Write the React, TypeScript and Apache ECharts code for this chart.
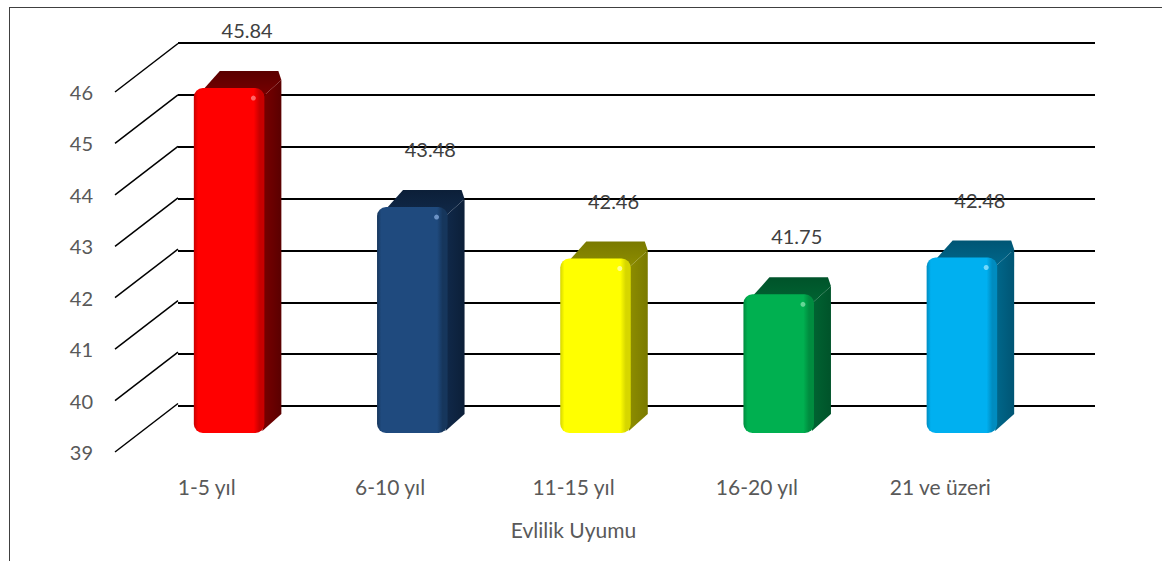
import React, { useEffect, useRef } from 'react';
import * as echarts from 'echarts';

const categories = ['1-5 yıl', '6-10 yıl', '11-15 yıl', '16-20 yıl', '21 ve üzeri'];
const values = [45.84, 43.48, 42.46, 41.75, 42.48];
const yTicks = [39, 40, 41, 42, 43, 44, 45, 46];
const axisTitle = 'Evlilik Uyumu';
const Y_MIN = 39;
const Y_MAX = 46;

const palette = [
  { front: '#FF0000', edge: '#C80000', side: '#5A0000', top: '#7A0000', hi: '#FF8080' },
  { front: '#1F4A7E', edge: '#16365C', side: '#0C1F38', top: '#10294A', hi: '#7FA5D8' },
  { front: '#FFFF00', edge: '#D6D600', side: '#7A7A00', top: '#8E8E00', hi: '#FFFFB0' },
  { front: '#00B050', edge: '#008C3F', side: '#00532A', top: '#006432', hi: '#80E0A8' },
  { front: '#00B0F0', edge: '#008CC0', side: '#005574', top: '#00688C', hi: '#90E4FF' },
];

const FONT = 'Lato, "Noto Sans", sans-serif';

export default function App() {
  const ref = useRef<HTMLDivElement>(null);
  useEffect(() => {
    if (!ref.current) return;
    const chart = echarts.init(ref.current, undefined, { renderer: 'svg' });
    const DX = 17;
    const DY = -17;

    const renderBar = (params: any, api: any) => {
      const i = api.value(0);
      const v = api.value(1);
      const c = palette[i % palette.length];
      const pTop = api.coord([i, v]);
      const pBase = api.coord([i, Y_MIN]);
      const bw = api.size([1, 0])[0];
      const w = bw * 0.385;
      const x0 = pTop[0] - w / 2;
      const x1 = pTop[0] + w / 2;
      const yT = pTop[1];
      const yB = pBase[1];
      const r = 9;
      return {
        type: 'group',
        children: [
          {
            type: 'polygon',
            shape: { points: [[x1 - 2, yT + r], [x1 + DX, yT + DY + r], [x1 + DX, yB + DY - 2], [x1 - 2, yB - 2]] },
            style: {
              fill: new echarts.graphic.LinearGradient(0, 0, 1, 0, [
                { offset: 0, color: c.top },
                { offset: 1, color: c.side },
              ]),
            },
          },
          {
            type: 'polygon',
            shape: { points: [[x0 + r, yT + 2], [x0 + r + DX, yT + DY], [x1 + DX - 3, yT + DY], [x1 + DX, yT + DY + r], [x1 - 2, yT + r]] },
            style: {
              fill: new echarts.graphic.LinearGradient(0, 0, 0, 1, [
                { offset: 0, color: c.side },
                { offset: 1, color: c.top },
              ]),
            },
          },
          {
            type: 'rect',
            shape: { x: x0, y: yT, width: w, height: yB - yT, r: r },
            style: {
              fill: new echarts.graphic.LinearGradient(0, 0, 1, 0, [
                { offset: 0, color: c.edge },
                { offset: 0.06, color: c.front },
                { offset: 0.85, color: c.front },
                { offset: 0.93, color: c.edge },
                { offset: 1, color: c.edge },
              ]),
            },
          },
          {
            type: 'circle',
            shape: { cx: x1 - 11, cy: yT + 10, r: 2.5 },
            style: { fill: c.hi, opacity: 0.8 },
          },
          {
            type: 'text',
            style: {
              text: v.toFixed(2),
              x: pTop[0] + 18,
              y: yT - 58,
              align: 'center',
              verticalAlign: 'middle',
              fontSize: 20,
              fontFamily: FONT,
              fill: '#404040',
            },
          },
        ],
      };
    };

    const renderDiag = (params: any, api: any) => {
      const v = api.value(1);
      const p = api.coord([0, v]);
      const bw = api.size([1, 0])[0];
      const xL = p[0] - bw / 2;
      return {
        type: 'line',
        shape: { x1: xL, y1: p[1], x2: xL + 63, y2: p[1] - 48.5 },
        style: { stroke: '#000', lineWidth: 1.5 },
      };
    };

    chart.setOption({
      animation: false,
      backgroundColor: '#fff',
      grid: [
        { left: 178, top: 43, width: 917, height: 363 },
        { left: 115, top: 92, width: 917, height: 360 },
        { left: 137.5, top: 80, width: 916, height: 353 },
      ],
      xAxis: [
        { gridIndex: 0, type: 'category', data: categories, show: false },
        {
          gridIndex: 1,
          type: 'category',
          data: categories,
          axisLine: { show: false },
          axisTick: { show: false },
          axisLabel: { margin: 24, fontSize: 21, fontFamily: FONT, color: '#595959' },
          name: axisTitle,
          nameLocation: 'middle',
          nameGap: 67,
          nameTextStyle: { fontSize: 21, fontFamily: FONT, color: '#595959' },
        },
        { gridIndex: 2, type: 'category', data: categories, show: false },
      ],
      yAxis: [
        {
          gridIndex: 0,
          type: 'value',
          min: Y_MIN,
          max: Y_MAX,
          interval: 1,
          axisLine: { show: false },
          axisTick: { show: false },
          axisLabel: { show: false },
          splitLine: { show: true, lineStyle: { color: '#000', width: 2 } },
        },
        {
          gridIndex: 1,
          type: 'value',
          min: Y_MIN,
          max: Y_MAX,
          interval: 1,
          axisLine: { show: false },
          axisTick: { show: false },
          splitLine: { show: false },
          axisLabel: { margin: 22, fontSize: 20, fontFamily: FONT, color: '#595959' },
        },
        { gridIndex: 2, type: 'value', min: Y_MIN, max: Y_MAX, show: false, splitLine: { show: false } },
      ],
      series: [
        {
          type: 'custom',
          xAxisIndex: 1,
          yAxisIndex: 1,
          data: yTicks.map((t) => [0, t]),
          renderItem: renderDiag,
          z: 2,
          silent: true,
        },
        {
          type: 'custom',
          xAxisIndex: 2,
          yAxisIndex: 2,
          data: values.map((v, i) => [i, v]),
          renderItem: renderBar,
          z: 5,
        },
      ],
      graphic: [
        { type: 'line', shape: { x1: 9, y1: 7.5, x2: 1162, y2: 7.5 }, style: { stroke: '#404040', lineWidth: 1 }, z: 10 },
        { type: 'line', shape: { x1: 9.5, y1: 7, x2: 9.5, y2: 561 }, style: { stroke: '#404040', lineWidth: 1 }, z: 10 },
      ],
    });
    return () => chart.dispose();
  }, []);
  return <div ref={ref} style={{ position: 'fixed', left: 0, top: 0, width: 1162, height: 561 }} />;
}
